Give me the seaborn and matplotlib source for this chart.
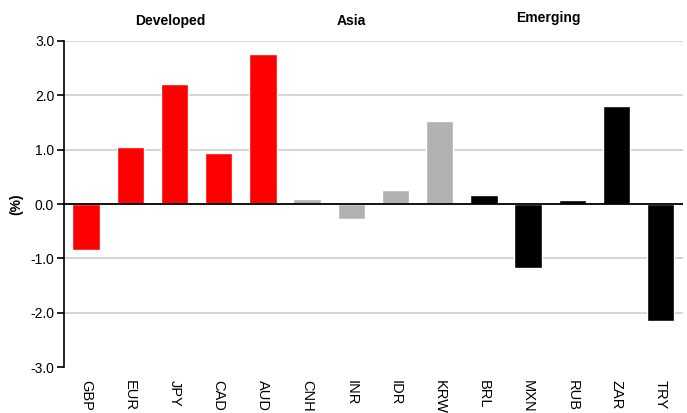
import matplotlib
matplotlib.use("Agg")
import matplotlib.pyplot as plt
import seaborn as sns
import pandas as pd

currencies = ["GBP", "EUR", "JPY", "CAD", "AUD", "CNH", "INR", "IDR", "KRW",
              "BRL", "MXN", "RUB", "ZAR", "TRY"]
groups = ["Developed"] * 5 + ["Asia"] * 4 + ["Emerging"] * 5
values = [-0.85, 1.05, 2.2, 0.93, 2.75, 0.09, -0.28, 0.25, 1.53,
          0.16, -1.18, 0.07, 1.8, -2.15]
group_colors = {"Developed": "#ff0000", "Asia": "#b2b2b2", "Emerging": "#000000"}
yticks = [-3.0, -2.0, -1.0, 0.0, 1.0, 2.0, 3.0]

df = pd.DataFrame({"ccy": currencies, "group": groups, "val": values})

sns.set_theme(style="white")
plt.rcParams["font.family"] = ["Liberation Sans Narrow", "Liberation Sans", "DejaVu Sans"]
plt.rcParams["text.color"] = "black"
plt.rcParams["axes.labelcolor"] = "black"
plt.rcParams["xtick.color"] = "black"
plt.rcParams["ytick.color"] = "black"

fig = plt.figure(figsize=(6.87, 4.13), dpi=100)
ax = fig.add_axes([0.093, 0.111, 0.901, 0.79])

sns.barplot(data=df, x="ccy", y="val", hue="group", palette=group_colors,
            dodge=False, width=0.62, legend=False, ax=ax, saturation=1)

ax.set_ylim(-3.0, 3.0)
ax.set_xlim(-0.5, len(currencies) - 0.5)
ax.set_yticks(yticks)
ax.set_yticklabels([f"{t:.1f}" for t in yticks], fontsize=10)
for t in yticks[1:]:
    if t != 0:
        ax.axhline(t, color="#d0d0d0", lw=1.2, zorder=0)
ax.axhline(0, color="black", lw=1.3, zorder=3)

for s in ["top", "right", "bottom"]:
    ax.spines[s].set_visible(False)
ax.spines["left"].set_color("black")
ax.spines["left"].set_linewidth(1.2)
ax.tick_params(axis="y", left=True, length=5, width=1.2, color="black", pad=2)
ax.tick_params(axis="x", bottom=False, pad=3)
plt.setp(ax.get_xticklabels(), rotation=270, fontsize=10.5, va="top", ha="center")

ax.set_xlabel("")
ax.set_ylabel("(%)", fontsize=10, fontweight="bold")
ax.yaxis.set_label_coords(-0.065, 0.5)

# group headings
ax.text(1.9, 3.36, "Developed", ha="center", va="center", fontsize=10, fontweight="bold")
ax.text(6.0, 3.36, "Asia", ha="center", va="center", fontsize=10, fontweight="bold")
ax.text(10.45, 3.43, "Emerging", ha="center", va="center", fontsize=10, fontweight="bold")

fig.savefig("out.png", dpi=100)
